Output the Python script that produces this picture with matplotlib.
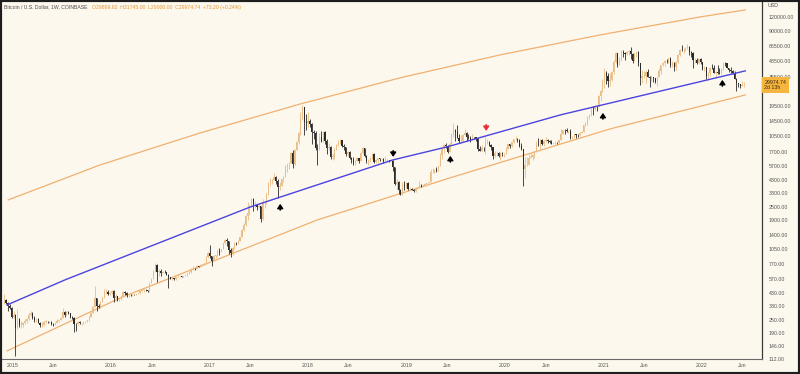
import matplotlib
matplotlib.use("Agg")
import matplotlib.pyplot as plt
import matplotlib.transforms as mtransforms
from matplotlib.patches import Rectangle
from matplotlib.ticker import NullLocator
import numpy as np
import pandas as pd

## Weekly candles (high, low, close), weeks start on Monday, first week 2014-12-01
first_open = 370.0

weeks_2014 = [(420, 340, 375), (380, 340, 350), (355, 300, 330), (340, 310, 318), (320, 260, 265)]

weeks_2015 = [
    (300, 260, 275), (280, 118, 210), (310, 205, 255), (260, 215, 225),
    (245, 212, 225), (240, 215, 235), (255, 230, 245), (260, 235, 255),
    (285, 250, 275), (300, 270, 285), (290, 255, 260), (270, 240, 250), (260, 240, 255),
    (260, 232, 235), (238, 215, 225), (238, 215, 225), (245, 218, 240),
    (248, 232, 240), (245, 232, 237), (245, 232, 240), (242, 225, 230),
    (232, 220, 225), (238, 222, 235), (255, 232, 245), (250, 240, 250), (265, 248, 260),
    (315, 258, 290), (295, 265, 275), (295, 272, 290), (298, 280, 285),
    (285, 260, 265), (270, 255, 260), (262, 195, 230), (235, 198, 228), (245, 225, 240),
    (245, 228, 232), (235, 225, 232), (238, 228, 236), (242, 234, 240),
    (250, 236, 247), (270, 245, 265), (290, 262, 285), (330, 283, 325),
    (500, 320, 385), (390, 300, 330), (340, 315, 325), (365, 315, 360), (400, 355, 395),
    (465, 385, 435), (470, 420, 440), (460, 415, 420), (440, 410, 430),
]

weeks_2016 = [
    (460, 420, 450), (455, 360, 385), (420, 370, 405), (405, 365, 375),
    (380, 365, 380), (405, 370, 405), (445, 400, 440), (445, 415, 430), (440, 400, 412),
    (420, 400, 412), (420, 405, 410), (420, 405, 416), (425, 410, 415),
    (425, 415, 420), (430, 418, 428), (452, 425, 450), (468, 440, 460),
    (465, 440, 460), (462, 450, 455), (458, 435, 445), (535, 440, 530), (585, 525, 575),
    (690, 570, 670), (785, 660, 760), (770, 540, 660), (700, 605, 670),
    (705, 605, 650), (675, 645, 665), (680, 650, 655), (660, 620, 625),
    (630, 475, 590), (600, 570, 575), (590, 565, 580), (585, 560, 570), (610, 565, 605),
    (630, 600, 605), (612, 600, 605), (610, 590, 600), (612, 595, 607),
    (618, 605, 615), (642, 612, 640), (660, 630, 655), (720, 650, 700), (745, 680, 705),
    (720, 690, 700), (755, 695, 740), (745, 725, 735), (770, 725, 765),
    (775, 750, 770), (795, 765, 790), (905, 790, 890), (1000, 885, 970),
]

weeks_2017 = [
    (1150, 880, 905), (910, 750, 830), (930, 820, 920), (930, 880, 920), (1030, 915, 1020),
    (1070, 940, 1000), (1060, 990, 1050), (1190, 1045, 1180), (1290, 1170, 1270),
    (1330, 1120, 1230), (1250, 950, 1030), (1080, 890, 970), (1100, 940, 1080),
    (1210, 1060, 1200), (1220, 1150, 1180), (1260, 1170, 1250), (1360, 1240, 1350),
    (1600, 1350, 1550), (1800, 1530, 1720), (2100, 1700, 2050), (2760, 1900, 2200), (2580, 2120, 2550),
    (3000, 2500, 2900), (3000, 2300, 2600), (2780, 2450, 2600), (2600, 2350, 2500),
    (2650, 2450, 2550), (2560, 1840, 1950), (2950, 1900, 2750), (2800, 2450, 2750), (3300, 2650, 3250),
    (4100, 3200, 4050), (4480, 3800, 4150), (4380, 3950, 4350), (4980, 4300, 4600),
    (4700, 4000, 4200), (4400, 2980, 3700), (4100, 3500, 3800), (4400, 3800, 4400),
    (4650, 4150, 4600), (5850, 4600, 5700), (6000, 5100, 5950), (6200, 5400, 6150), (7600, 6100, 7400),
    (7900, 5500, 5950), (8100, 5850, 8000), (9500, 7900, 9300), (11400, 9000, 11200),
    (17200, 10700, 15000), (19900, 14800, 19000), (19200, 10800, 14000), (16500, 12000, 13800),
]

weeks_2018 = [
    (17200, 12800, 14300), (15000, 12750, 13500), (13800, 9000, 11500), (12000, 10000, 11200), (11800, 7900, 8200),
    (9000, 5900, 8100), (11200, 8000, 10300), (11800, 9300, 9600), (11700, 9400, 11500),
    (11600, 8900, 9550), (9900, 7300, 8200), (9100, 8000, 8500), (8600, 6600, 6900),
    (7500, 6500, 7000), (8300, 6600, 8000), (8950, 7900, 8800), (9700, 8700, 9250), (9850, 9000, 9650),
    (9750, 8400, 8700), (8900, 7950, 8500), (8500, 7100, 7350), (7750, 7050, 7700),
    (7750, 6600, 6780), (6850, 6100, 6450), (6850, 5800, 6150), (6500, 5800, 6380),
    (6850, 6300, 6750), (6800, 6100, 6350), (7600, 6300, 7400), (8500, 7350, 8200), (8250, 6900, 7030),
    (7150, 6100, 6300), (6600, 5880, 6480), (6850, 6250, 6700), (7400, 6650, 7260),
    (7400, 6100, 6250), (6600, 6150, 6500), (6800, 6100, 6700), (6800, 6400, 6600),
    (6650, 6450, 6600), (6700, 6150, 6400), (7000, 6300, 6450), (6600, 6350, 6480), (6480, 6250, 6400),
    (6550, 6300, 6400), (6500, 5200, 5600), (5650, 3900, 4000), (4400, 3500, 4100),
    (4200, 3250, 3500), (3600, 3150, 3200), (4150, 3200, 3900), (4250, 3500, 3850), (4100, 3650, 4030),
]

weeks_2019 = [
    (4100, 3480, 3550), (3700, 3480, 3550), (3650, 3500, 3530), (3580, 3350, 3420),
    (3700, 3380, 3650), (3720, 3560, 3680), (4200, 3650, 3860), (3950, 3700, 3840),
    (3950, 3700, 3900), (4050, 3820, 4000), (4080, 3950, 4020), (4150, 3900, 4100),
    (5350, 4100, 5050), (5450, 4930, 5050), (5400, 5000, 5320), (5650, 5050, 5200), (5850, 5150, 5750),
    (7500, 5700, 7200), (8350, 6600, 8200), (8950, 7450, 8750), (9100, 8350, 8550),
    (8800, 7450, 7650), (9350, 7550, 8950), (11250, 8950, 10800), (13850, 10300, 11900),
    (12100, 9600, 11450), (13200, 10100, 10200), (11100, 9100, 9500), (10700, 9100, 9550), (11100, 9350, 10800),
    (12300, 10800, 11300), (11500, 9500, 10350), (10950, 9900, 10150), (10650, 9350, 9800),
    (10900, 9700, 10400), (10450, 9950, 10300), (10350, 9600, 10000), (10100, 7750, 8050), (8550, 7750, 7850),
    (8800, 7800, 8300), (8400, 7850, 8220), (10500, 7300, 9200), (9950, 8950, 9300),
    (9500, 8650, 8800), (9050, 8000, 8500), (8500, 6550, 7050), (7850, 6850, 7400),
    (7800, 7100, 7500), (7700, 6950, 7100), (7550, 6450, 7500), (7650, 7100, 7250), (7500, 6850, 7350),
]

weeks_2020 = [
    (8450, 7350, 8150), (9000, 8050, 8900), (8900, 8250, 8600), (9600, 8500, 9350),
    (9900, 9150, 9900), (10500, 9700, 9900), (10250, 9300, 9650), (9950, 8400, 8550),
    (9200, 7900, 8040), (8150, 3850, 5350), (6950, 4450, 5850), (6950, 5700, 5900), (7250, 5850, 6780),
    (7450, 6750, 6900), (7300, 6450, 7120), (7750, 6800, 7750), (9450, 7650, 8800),
    (10050, 8550, 8720), (9950, 8100, 9700), (9850, 8800, 8900), (9700, 8650, 9450),
    (10400, 9300, 9650), (10000, 9200, 9450), (9650, 9200, 9300), (9800, 8950, 9050), (9250, 8900, 9100),
    (9450, 9050, 9250), (9350, 9000, 9200), (9800, 9150, 9700), (12100, 9650, 11100),
    (12000, 11050, 11900), (12100, 11100, 11850), (12450, 11400, 11650), (11750, 11150, 11700), (12100, 9900, 10250),
    (10600, 9900, 10330), (11100, 10200, 10950), (10950, 10150, 10750), (10950, 10450, 10680),
    (11450, 10550, 11300), (11750, 11150, 11500), (13250, 11400, 13100), (14100, 12900, 13800),
    (15950, 13300, 15500), (16500, 15100, 16000), (18800, 15800, 18400), (19450, 16200, 18200), (19900, 18000, 19150),
    (19450, 17600, 19100), (24300, 19000, 23800), (27000, 21800, 26300), (34000, 25900, 32200),
]

weeks_2021 = [
    (42000, 28000, 38200), (40100, 30300, 36000), (37900, 28800, 32300), (38600, 29200, 33100),
    (40000, 32300, 39200), (49700, 37400, 47900), (58300, 47000, 57500), (57500, 43000, 45200),
    (52600, 45000, 51000), (61700, 49300, 59000), (60700, 53200, 57500), (58400, 50300, 55800), (60000, 54800, 58800),
    (61200, 55500, 59800), (64900, 51000, 56200), (57500, 47000, 49000), (58000, 48800, 56600),
    (59500, 53000, 58200), (59500, 43800, 46500), (46600, 30000, 34800), (40900, 31100, 35700), (39500, 34800, 35800),
    (40500, 31000, 39100), (41300, 34900, 35500), (36000, 28800, 34700), (36600, 32700, 35300),
    (35300, 32100, 34300), (34600, 31100, 31800), (35400, 29300, 35400), (42300, 35200, 39900),
    (45300, 37600, 44600), (48100, 43700, 47000), (49500, 43900, 49000), (50500, 46400, 48900), (51900, 46800, 51800),
    (52900, 42800, 44900), (48800, 43400, 47300), (47400, 39600, 43200), (49300, 40800, 48200),
    (56500, 47100, 55000), (62000, 53800, 61500), (67000, 59700, 60900), (63700, 57800, 61300),
    (64300, 59400, 63300), (69000, 62300, 65500), (66300, 55600, 58600), (59300, 53300, 57200), (59000, 42000, 49400),
    (51900, 46800, 50100), (51500, 45500, 46700), (51900, 45600, 50800), (52000, 45700, 47700),
]

weeks_2022 = [
    (47600, 40500, 41800), (44400, 39600, 43100), (43500, 34000, 36300), (38900, 32900, 37900), (42600, 36300, 42400),
    (45900, 41800, 42200), (44800, 38000, 38400), (39800, 34300, 39100), (45400, 37500, 38400),
    (42600, 37100, 37800), (42300, 37600, 41300), (47000, 40500, 46800), (48200, 44200, 46400),
    (47100, 42100, 42200), (42400, 39200, 40400), (42900, 38600, 39500), (40800, 37700, 38500),
    (40000, 33700, 34100), (34300, 26700, 31300), (31400, 28700, 30300), (30600, 28000, 29450), (32400, 29300, 29900),
    (31745.00, 29000.00, 29974.74),
]

## Trend line and bands
trend_dates = ["2014-12-12", "2015-07-15", "2017-06-02", "2018-11-12", "2019-06-01", "2020-07-25", "2022-06-11"]
trend_prices = [337, 562, 2490, 6490, 8470, 16250, 39900]

upper_dates = ["2014-12-16", "2015-11-22", "2016-11-28", "2017-12-04", "2018-12-08",
               "2019-12-14", "2020-12-20", "2021-12-26", "2022-06-11"]
upper_prices = [2870, 5860, 11270, 20340, 34590, 55250, 83130, 120000, 138400]

lower_dates = ["2014-12-12", "2016-02-05", "2018-02-05", "2019-06-12", "2021-01-26", "2022-06-11"]
lower_prices = [132, 389, 1910, 4500, 12220, 24430]

## Arrow marks: (date, price at the tip, direction)
arrows = [
    ("2017-09-20", 2650, "up", "black"),
    ("2019-06-13", 7050, "up", "black"),
    ("2020-12-30", 16940, "up", "black"),
    ("2022-03-18", 33200, "up", "black"),
    ("2018-11-13", 6900, "down", "black"),
    ("2019-10-24", 11720, "down", "#e8303a"),
]

price_ticks = [120000, 90000, 66500, 48500, 35500, 19500, 14500, 10500, 7700, 5700, 4300, 3300,
               2500, 1900, 1400, 1050, 770, 570, 430, 330, 250, 190, 146, 112]
year_ticks = ["2015", "2016", "2017", "2018", "2019", "2020", "2021", "2022"]

BG = "#fdf8ee"
UP = "#ebbd86"
DOWN = "#2a2a2a"
FONT = "Liberation Sans"


def main():
    rows = weeks_2014 + weeks_2015 + weeks_2016 + weeks_2017 + weeks_2018 + weeks_2019 + weeks_2020 + weeks_2021 + weeks_2022
    dates = pd.date_range("2014-12-01", periods=len(rows), freq="7D")
    highs = np.array([r[0] for r in rows], dtype=float)
    lows = np.array([r[1] for r in rows], dtype=float)
    closes = np.array([r[2] for r in rows], dtype=float)
    opens = np.concatenate([[first_open], closes[:-1]])
    up = closes >= opens
    colors = np.where(up, UP, DOWN)

    fig = plt.figure(figsize=(8, 3.74), dpi=100, facecolor=BG)
    ax = fig.add_axes([2 / 800, 15 / 374, 760 / 800, 358 / 374])
    ax.set_facecolor(BG)
    ax.set_yscale("log")

    ## candles
    ax.vlines(dates, lows, highs, colors=colors, linewidth=0.6, zorder=3)
    body_low = np.minimum(opens, closes)
    body_h = np.maximum(np.abs(closes - opens), body_low * 0.004)
    ax.bar(dates, body_h, bottom=body_low, width=4.2, color=colors, linewidth=0, zorder=3)

    ## bands
    ax.plot(pd.to_datetime(upper_dates), upper_prices, color="#f0b070", lw=0.9, zorder=2)
    ax.plot(pd.to_datetime(lower_dates), lower_prices, color="#f0b070", lw=0.9, zorder=2)
    ax.plot(pd.to_datetime(trend_dates), trend_prices, color="#4a44e0", lw=1.0, zorder=4)

    ## arrows
    for d, p, direction, c in arrows:
        off = -4.5 if direction == "up" else 4.5
        ax.annotate("", xy=(pd.Timestamp(d), p), xytext=(0, off), textcoords="offset points",
                    arrowprops=dict(arrowstyle="-|>,head_length=0.25,head_width=0.17", color=c, lw=1.1,
                                    shrinkA=0, shrinkB=0), zorder=5)

    ax.set_xlim(pd.Timestamp("2014-11-23"), pd.Timestamp("2022-08-12"))
    ax.set_ylim(111.8, 166000)

    ## right price axis
    ax.yaxis.tick_right()
    ax.yaxis.set_minor_locator(NullLocator())
    ax.set_yticks(price_ticks)
    ax.set_yticklabels(["%.2f" % v for v in price_ticks], fontsize=3.8, color="#555555", family=FONT)
    ax.tick_params(axis="y", length=0, pad=5)

    ## time axis
    xt, xl = [], []
    for y in year_ticks:
        xt += [pd.Timestamp(y + "-01-01"), pd.Timestamp(y + "-06-01")]
        xl += [y, "Jun"]
    ax.set_xticks(xt)
    ax.set_xticklabels(xl, fontsize=3.8, color="#555555", family=FONT)
    ax.tick_params(axis="x", length=0, pad=3)

    for s in ["top", "left"]:
        ax.spines[s].set_visible(False)
    ax.spines["right"].set_color("#3a3a3a")
    ax.spines["bottom"].set_color("#6a6a6a")
    ax.spines["right"].set_linewidth(0.9)
    ax.spines["bottom"].set_linewidth(0.8)

    ## last price label
    last = closes[-1]
    trans = mtransforms.blended_transform_factory(ax.transAxes, ax.transData)
    ax.text(1.003, last, "%.2f\n2d 13h" % last, transform=trans, ha="left", va="center",
            fontsize=3.8, color="#3a2a10", family=FONT, linespacing=1.2, clip_on=False,
            bbox=dict(boxstyle="square,pad=0.5", fc="#f6b53e", ec="none"))
    ax.text(1.008, 1 - 5 / 358, "USD", transform=ax.transAxes, fontsize=3.8, color="#555555",
            family=FONT, va="center")

    ## header
    title = fig.text(4 / 800, 1 - 7 / 374, "Bitcoin / U.S. Dollar, 1W, COINBASE", fontsize=3.7,
                     color="#4a4a4a", family=FONT, va="center")
    plt.annotate("O29899.62  H31745.00  L29000.00  C29974.74  +73.20 (+0.24%)",
                 xy=(1, 0.5), xycoords=title, xytext=(3, 0), textcoords="offset points",
                 fontsize=3.7, color="#e8962e", family=FONT, va="center")

    ## dark frame of the screenshot
    fig.patches.append(Rectangle((0, 0), 1, 1, transform=fig.transFigure, fill=False,
                                 ec="#1e1e1e", lw=3))

    fig.savefig("out.png", dpi=100, facecolor=BG)


if __name__ == "__main__":
    main()
